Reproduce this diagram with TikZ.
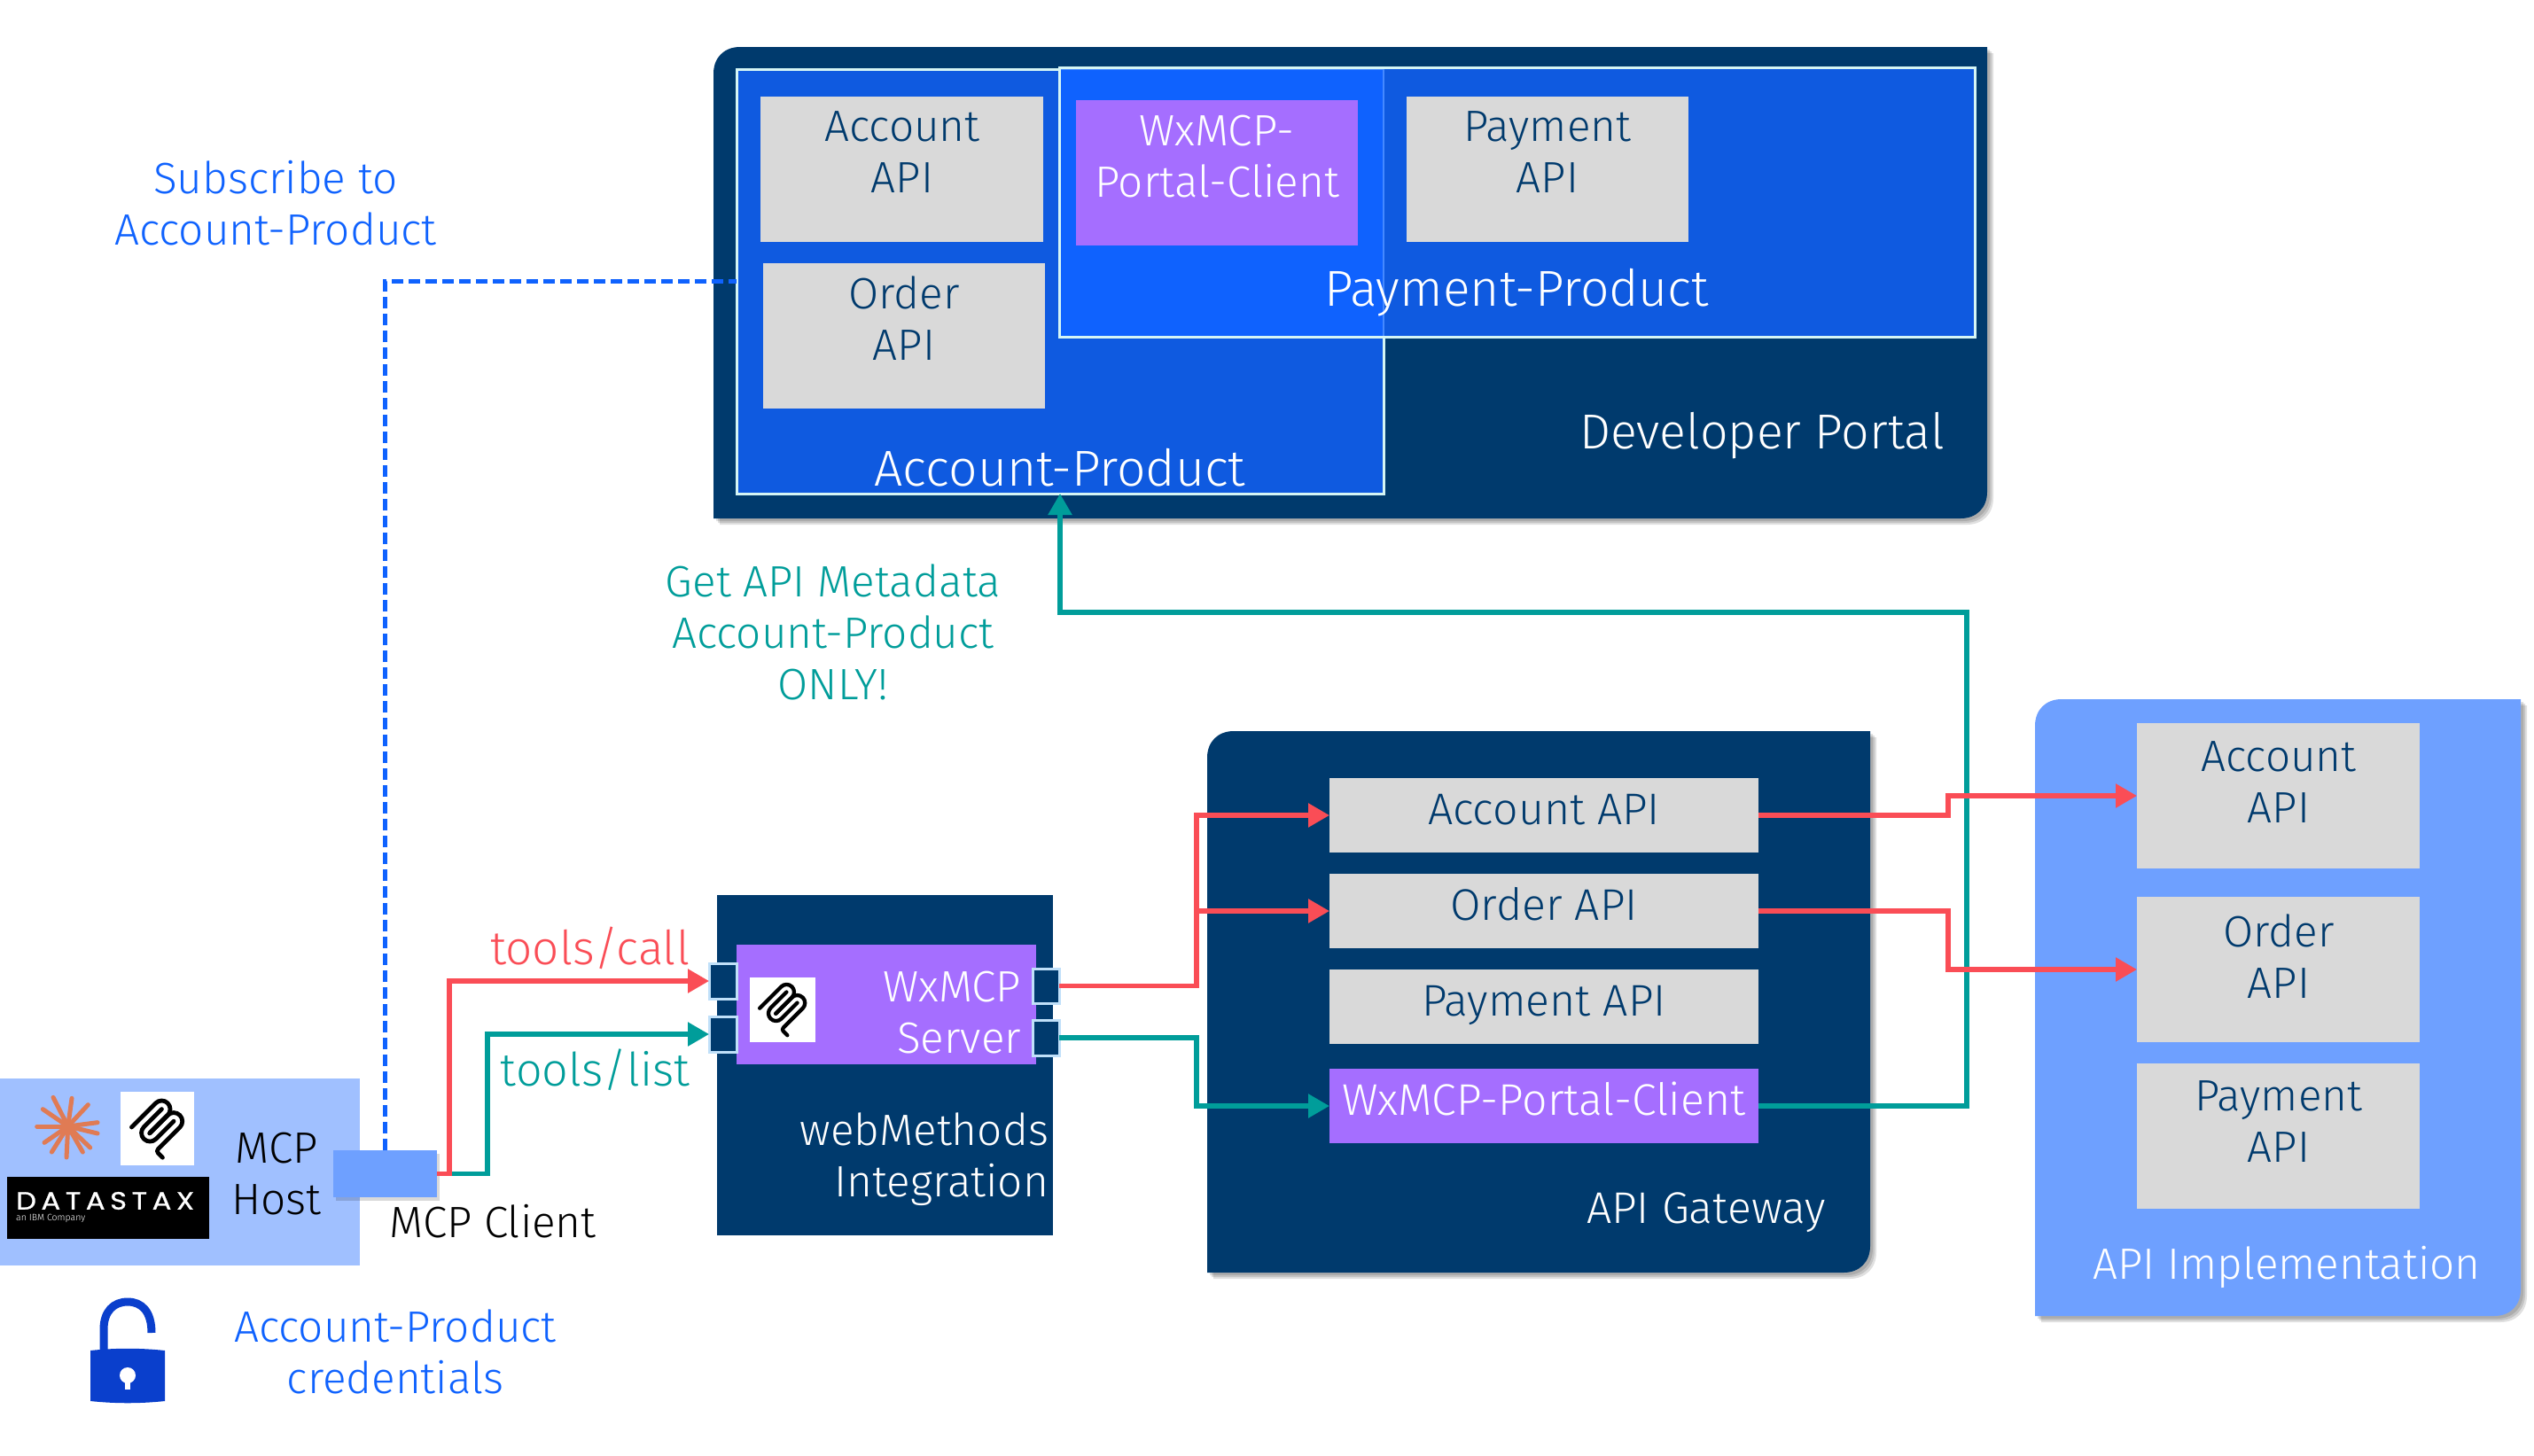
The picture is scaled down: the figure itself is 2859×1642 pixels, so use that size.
\documentclass[tikz,border=0pt]{standalone}
\usepackage{fontspec}
\setmainfont{Fira Sans Light}
\newfontfamily\dsfont[LetterSpace=20,FakeStretch=1.15,FakeBold=1]{Poppins}
\usetikzlibrary{arrows.meta,calc}
\definecolor{navy}{HTML}{003A6D}
\definecolor{blueA}{HTML}{0F5AE0}
\definecolor{blueO}{HTML}{0F62FE}
\definecolor{blueT}{HTML}{0F62FE}
\definecolor{blueF}{HTML}{4589FF}
\definecolor{blueI}{HTML}{6EA0FF}
\definecolor{blueH}{HTML}{A0C0FF}
\definecolor{edgeC}{HTML}{D5F5F5}
\definecolor{greyB}{HTML}{D9D9D9}
\definecolor{purp}{HTML}{A56EFF}
\definecolor{redL}{HTML}{FA4D56}
\definecolor{tealL}{HTML}{009D9A}
\definecolor{lockB}{HTML}{0A3FCC}
\definecolor{starC}{HTML}{E07B54}
\tikzset{x=1pt,y=-1pt,
 txt/.style={font=\fontsize{49.5}{58}\selectfont,align=center,inner sep=0pt,outer sep=0pt},
 onnavy/.style={txt,text=white},
 ongrey/.style={txt,text=navy},
 bigtxt/.style={txt,text=white,font=\fontsize{57}{66}\selectfont},
 gwtxt/.style={txt,font=\fontsize{50}{58}\selectfont},
 redline/.style={draw=redL,line width=5.5pt,-{Triangle[length=24pt,width=26pt]}},
 tealline/.style={draw=tealL,line width=5.5pt,-{Triangle[length=24pt,width=26pt]}},
 bluedash/.style={draw=blueT,line width=5.5pt,dash pattern=on 13pt off 6pt},
 port/.style={draw=edgeC!60!blueH,line width=3pt},
}
% name, x1, y1, x2, y2, options
\newcommand{\rbox}[6]{\node[inner sep=0pt,outer sep=0pt,minimum width={#4-#2},minimum height={#5-#3},anchor=north west,#6] (#1) at (#2,#3) {};}
% panel with rounded top-left and bottom-right corners
\newcommand{\panelpath}[4]{({#1},{#4}) -- ({#1},{#2+30}) .. controls ({#1},{#2+12}) and ({#1+12},{#2}) .. ({#1+30},{#2}) -- ({#3},{#2}) -- ({#3},{#4-30}) .. controls ({#3},{#4-12}) and ({#3-12},{#4}) .. ({#3-30},{#4}) -- cycle}
\newcommand{\panelfill}[5]{%
 \fill[black,opacity=.12] \panelpath{#1+3}{#2+3}{#3+3}{#4+3};
 \fill[black,opacity=.12] \panelpath{#1+5}{#2+5}{#3+5}{#4+5};
 \fill[black,opacity=.12] \panelpath{#1+7}{#2+7}{#3+7}{#4+7};
 \fill[#5] \panelpath{#1}{#2}{#3}{#4};}
% MCP logo, centred at (#1,#2), scale #3, line width #4
\newcommand{\mcplogo}[4]{\begin{scope}[shift={(#1,#2)},scale=#3,shift={(-97.5,-103)}]
 \begin{scope}[black,line width=#4,line cap=round,line join=round]
 \draw (25,97.85) -- (92.88,29.97) .. controls (102.25,20.6) and (117.45,20.6) .. (126.82,29.97) .. controls (136.2,39.34) and (136.2,54.54) .. (126.82,63.91) -- (75.56,115.18);
 \draw (76.27,114.47) -- (126.82,63.91) .. controls (136.2,54.54) and (151.39,54.54) .. (160.76,63.91) -- (161.12,64.27) .. controls (170.49,73.64) and (170.49,88.83) .. (161.12,98.21) -- (99.72,159.6) .. controls (96.6,162.72) and (96.6,167.79) .. (99.72,170.91) -- (112.33,183.52);
 \draw (109.85,46.94) -- (59.65,97.15) .. controls (50.28,106.52) and (50.28,121.71) .. (59.65,131.09) .. controls (69.02,140.46) and (84.22,140.46) .. (93.59,131.09) -- (143.79,80.88);
 \end{scope}\end{scope}}
\begin{document}
\begin{tikzpicture}
\useasboundingbox (0,0) rectangle (2859,1642);
\fill[white] (0,0) rectangle (2859,1642);
% panels
\panelfill{805}{53}{2242}{585}{navy}
\rbox{portal}{805}{53}{2242}{585}{}
\panelfill{1362}{825}{2110}{1436}{navy}
\rbox{gateway}{1362}{825}{2110}{1436}{}
\panelfill{2296}{789}{2844}{1485}{blueI}
\rbox{impl}{2296}{789}{2844}{1485}{}
\rbox{server}{809}{1010}{1188}{1394}{fill=navy}
\rbox{host}{0}{1217}{406}{1428}{fill=blueH}
% products
\rbox{ap}{831}{78}{1561}{557}{fill=blueA,draw=edgeC,line width=3pt}
\rbox{pp}{1195}{76}{2228}{380}{fill=blueA}
\rbox{ov}{1195}{78}{1561}{380}{fill=blueO}
\draw[blueF,line width=2.5pt] (ov.north west) -- (ov.north east) -- (ov.south east);
\draw[edgeC,line width=3pt] (pp.north west) rectangle (pp.south east);
% portal boxes
\rbox{pa}{858}{109}{1177}{273}{fill=greyB}
\rbox{po}{861}{297}{1179}{461}{fill=greyB}
\rbox{pw}{1214}{113}{1532}{277}{fill=purp}
\rbox{pp2}{1587}{109}{1905}{273}{fill=greyB}
% gateway boxes
\rbox{ga}{1500}{878}{1984}{962}{fill=greyB}
\rbox{go}{1500}{986}{1984}{1070}{fill=greyB}
\rbox{gp}{1500}{1094}{1984}{1178}{fill=greyB}
\rbox{gw}{1500}{1206}{1984}{1290}{fill=purp}
% implementation boxes
\rbox{ia}{2411}{816}{2730}{980}{fill=greyB}
\rbox{io}{2411}{1012}{2730}{1176}{fill=greyB}
\rbox{ip}{2411}{1200}{2730}{1364}{fill=greyB}
% server
\rbox{wx}{831}{1066}{1169}{1201}{fill=purp}
\rbox{lp1}{800}{1087}{831}{1127}{fill=navy,port}
\rbox{lp2}{800}{1147}{831}{1187}{fill=navy,port}
\rbox{rp1}{1165}{1093}{1195}{1132}{fill=navy,port}
\rbox{rp2}{1165}{1151}{1195}{1191}{fill=navy,port}
\rbox{wxl}{846}{1103}{920}{1176}{fill=white}
\mcplogo{883}{1139.5}{.357}{4.3pt}
% host logos
\foreach \ex/\ey in {-50/-98,13/-95,68/-73,100/-13,100/24,75/72,50/87,-5/105,-55/87,-80/55,-105/0,-85/-58}
 \draw[starC,line width=5pt,line cap=round] (76.7,1271) -- ++({\ex/3},{\ey/3});
\rbox{hl}{136}{1232}{219}{1315}{fill=white}
\mcplogo{177.5}{1274}{.4}{4.8pt}
\rbox{ds}{8}{1328}{236}{1398}{fill=black}
\node[anchor=west,inner sep=0pt,text=white,font=\dsfont\fontsize{28}{28}\selectfont] (dst) at (18,1355) {DATASTAX};
\node[anchor=west,inner sep=0pt,text=white,font=\fontsize{10.5}{12}\selectfont] (dsc) at (18,1375) {an IBM Company};
% MCP client
\rbox{clientsh}{376}{1298}{493}{1351}{fill=black,opacity=.15,xshift=3pt,yshift=-4pt}
\rbox{client}{376}{1298}{493}{1351}{fill=blueI}
\draw[bluedash] (client.north) -- (client.north |- ap.west) -- (ap.west);
\fill[blueI] (client.north west) rectangle (client.south east);
% connectors
\coordinate (vr) at (1350,0);
\coordinate (vl) at (507,0);
\coordinate (vt) at (550,0);
\coordinate (vi) at (2198,0);
\coordinate (vg) at (2219,0);
\coordinate (hg) at (0,691);
\draw[tealline] (gw.east) -- (vg |- gw.east) -- (vg |- hg) -- (ap.south |- hg) -- (ap.south);
\draw[tealline] (client.east) -- (vt |- client.east) -- (vt |- lp2.west) -- (lp2.west);
\draw[tealline] (rp2.east) -- (vr |- rp2.east) -- (vr |- gw.west) -- (gw.west);
\draw[redline] (client.east) -- (vl |- client.east) -- (vl |- lp1.west) -- (lp1.west);
\draw[redline] (rp1.east) -- (vr |- rp1.east) -- (vr |- ga.west) -- (ga.west);
\draw[redline] (vr |- go.west) -- (go.west);
\draw[redline] (ga.east) -- (vi |- ga.east) -- (vi |- ia.west) -- (ia.west);
\draw[redline] (go.east) -- (vi |- go.east) -- (vi |- io.west) -- (io.west);
% lock
\draw[lockB,line width=9pt] (117,1525) -- (117,1500) .. controls (117,1480) and (128,1469) .. (144,1469) .. controls (160,1469) and (171,1480) .. (171,1504);
\fill[lockB] (102,1524) .. controls (130,1521) and (158,1521) .. (186,1524) -- (186,1581) .. controls (158,1584) and (130,1584) .. (102,1581) -- cycle;
\fill[white] (144,1552) circle (9pt);
\fill[white] (141,1552) rectangle (147,1568);
% texts
\node[txt,text=blueT] (t1) at (311,229) {Subscribe to\\Account-Product};
\node[txt,text=tealL] (t2) at (940,713) {Get API Metadata\\Account-Product\\ONLY!};
\node[txt,text=redL,anchor=east,font=\fontsize{53}{60}\selectfont] (t3) at (778,1070) {tools/call};
\node[txt,text=tealL,anchor=east,font=\fontsize{52}{60}\selectfont] (t4) at (778,1207) {tools/list};
\node[txt,text=black] (t5) at (312,1325) {MCP\\Host};
\node[txt,text=black] (t6) at (556,1378) {MCP Client};
\node[txt,text=blueT] (t7) at (446,1525) {Account-Product\\credentials};
\node[onnavy,align=right,anchor=east] (t8) at (1152,1143) {WxMCP\\Server};
\node[onnavy,align=right,anchor=east] (t9) at (1183,1308) {webMethods\\Integration};
\node[ongrey] (t13) at (1018,172) {Account\\API};
\node[ongrey] (t10) at (1020,359) {Order\\API};
\node[onnavy] (t11) at (1373,177) {WxMCP-\\Portal-Client};
\node[ongrey] (t12) at (1746,172) {Payment\\API};
\node[bigtxt] (t14) at (1711,330) {Payment-Product};
\node[bigtxt] (t15) at (1196,528) {Account-Product};
\node[bigtxt,font=\fontsize{55.5}{64}\selectfont] (t16) at (1988,492) {Developer Portal};
\node[gwtxt,text=navy] (t17) at (1742,914) {Account API};
\node[gwtxt,text=navy] (t18) at (1742,1020) {Order API};
\node[gwtxt,text=navy] (t19) at (1742,1134) {Payment API};
\node[gwtxt,text=white] (t20) at (1742,1240) {WxMCP-Portal-Client};
\node[gwtxt,text=white] (t21) at (1925,1368) {API Gateway};
\node[ongrey] (t22) at (2571,883) {Account\\API};
\node[ongrey] (t23) at (2571,1079) {Order\\API};
\node[ongrey] (t24) at (2571,1266) {Payment\\API};
\node[onnavy] (t25) at (2580,1430) {API Implementation};
\end{tikzpicture}
\end{document}
